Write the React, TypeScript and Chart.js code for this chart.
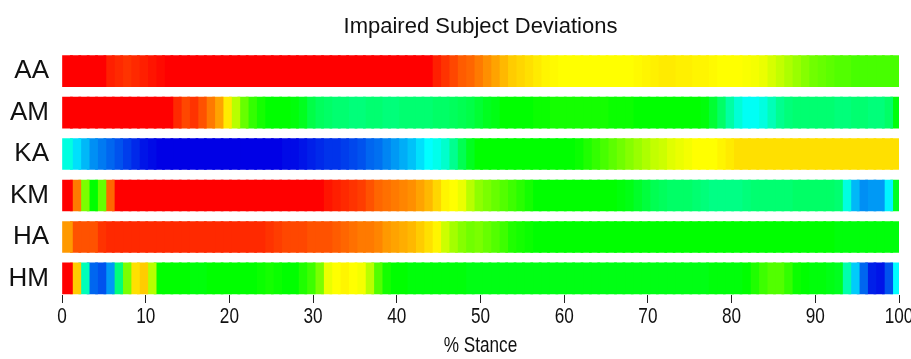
import React, { useEffect, useRef } from 'react';
import { Chart, registerables } from 'chart.js';

Chart.register(...registerables);

// Row (joint/segment) labels, top to bottom
const ROW_LABELS = ['AA', 'AM', 'KA', 'KM', 'HA', 'HM'];

// x-axis tick labels (% stance)
const X_TICKS = [0, 10, 20, 30, 40, 50, 60, 70, 80, 90, 100];
const X_TITLE = '% Stance';
const CHART_TITLE = 'Impaired Subject Deviations';

// Deviation level per 1% of stance (0 = blue, 0.25 = cyan, 0.5 = green, 0.75 = yellow, 1 = red)
const AA = [
  1, 1, 1, 1, 1, 0.97, 0.96, 0.95, 0.96, 0.97,
  0.98, 0.99, 1, 1, 1, 1, 1, 1, 1, 1,
  1, 1, 1, 1, 1, 1, 1, 1, 1, 1,
  1, 1, 1, 1, 1, 1, 1, 1, 1, 1,
  1, 1, 1, 1, 0.97, 0.95, 0.93, 0.91, 0.9, 0.88,
  0.86, 0.84, 0.82, 0.8, 0.79, 0.78, 0.77, 0.76, 0.755, 0.75,
  0.75, 0.75, 0.75, 0.75, 0.75, 0.75, 0.75, 0.75, 0.755, 0.76,
  0.765, 0.77, 0.77, 0.765, 0.765, 0.76, 0.76, 0.755, 0.75, 0.75,
  0.75, 0.745, 0.74, 0.73, 0.71, 0.69, 0.67, 0.65, 0.63, 0.61,
  0.6, 0.59, 0.58, 0.58, 0.57, 0.57, 0.57, 0.57, 0.57, 0.57,
];

const AM = [
  1, 1, 1, 1, 1, 1, 1, 1, 1, 1,
  1, 1, 1, 0.96, 0.93, 0.95, 0.92, 0.88, 0.84, 0.77,
  0.68, 0.6, 0.55, 0.52, 0.5, 0.5, 0.5, 0.49, 0.47, 0.43,
  0.41, 0.4, 0.39, 0.39, 0.38, 0.38, 0.39, 0.39, 0.38, 0.38,
  0.39, 0.39, 0.39, 0.39, 0.4, 0.4, 0.41, 0.42, 0.43, 0.45,
  0.47, 0.48, 0.5, 0.5, 0.5, 0.5, 0.51, 0.51, 0.52, 0.52,
  0.52, 0.52, 0.52, 0.52, 0.52, 0.51, 0.51, 0.51, 0.5, 0.5,
  0.5, 0.5, 0.5, 0.5, 0.5, 0.5, 0.49, 0.45, 0.4, 0.34,
  0.29, 0.26, 0.26, 0.28, 0.32, 0.36, 0.38, 0.39, 0.39, 0.39,
  0.39, 0.39, 0.38, 0.38, 0.39, 0.39, 0.38, 0.38, 0.4, 0.49,
];

const KA = [
  0.28, 0.22, 0.18, 0.14, 0.12, 0.1, 0.08, 0.06, 0.04, 0.02,
  0.01, 0, 0, 0, 0, 0, 0, 0, 0, 0,
  0, 0, 0, 0, 0, 0, 0.01, 0.01, 0.02, 0.03,
  0.04, 0.05, 0.05, 0.06, 0.07, 0.08, 0.1, 0.11, 0.13, 0.15,
  0.17, 0.19, 0.22, 0.25, 0.27, 0.3, 0.36, 0.42, 0.47, 0.5,
  0.5, 0.5, 0.5, 0.5, 0.5, 0.5, 0.5, 0.5, 0.5, 0.5,
  0.5, 0.51, 0.53, 0.55, 0.57, 0.59, 0.61, 0.63, 0.65, 0.67,
  0.69, 0.7, 0.72, 0.73, 0.74, 0.75, 0.75, 0.75, 0.76, 0.77,
  0.78, 0.78, 0.78, 0.78, 0.78, 0.78, 0.78, 0.78, 0.78, 0.78,
  0.78, 0.78, 0.78, 0.78, 0.78, 0.78, 0.78, 0.78, 0.78, 0.78,
];

const KM = [
  1, 0.88, 0.62, 0.5, 0.6, 0.9, 1, 1, 1, 1,
  1, 1, 1, 1, 1, 1, 1, 1, 1, 1,
  1, 1, 1, 1, 1, 1, 1, 1, 1, 1,
  1, 0.98, 0.97, 0.96, 0.95, 0.94, 0.92, 0.9, 0.89, 0.88,
  0.87, 0.86, 0.84, 0.82, 0.79, 0.76, 0.75, 0.73, 0.68, 0.64,
  0.62, 0.6, 0.58, 0.56, 0.54, 0.52, 0.5, 0.5, 0.5, 0.5,
  0.5, 0.5, 0.5, 0.5, 0.5, 0.5, 0.49, 0.48, 0.46, 0.44,
  0.42, 0.41, 0.4, 0.4, 0.4, 0.39, 0.38, 0.37, 0.37, 0.37,
  0.37, 0.38, 0.39, 0.39, 0.39, 0.39, 0.39, 0.4, 0.4, 0.4,
  0.4, 0.4, 0.39, 0.28, 0.18, 0.14, 0.15, 0.15, 0.24, 0.47,
];

const HA = [
  0.85, 0.92, 0.92, 0.92, 0.95, 0.96, 0.96, 0.96, 0.96, 0.96,
  0.96, 0.96, 0.96, 0.96, 0.96, 0.96, 0.96, 0.96, 0.96, 0.96,
  0.96, 0.96, 0.96, 0.96, 0.95, 0.94, 0.93, 0.93, 0.93, 0.92,
  0.92, 0.92, 0.91, 0.9, 0.89, 0.88, 0.88, 0.87, 0.85, 0.84,
  0.83, 0.82, 0.8, 0.78, 0.76, 0.7, 0.66, 0.63, 0.61, 0.62,
  0.6, 0.58, 0.56, 0.53, 0.52, 0.51, 0.5, 0.5, 0.5, 0.5,
  0.5, 0.5, 0.5, 0.5, 0.5, 0.5, 0.5, 0.5, 0.5, 0.5,
  0.5, 0.5, 0.5, 0.5, 0.5, 0.5, 0.5, 0.5, 0.5, 0.5,
  0.5, 0.5, 0.5, 0.5, 0.5, 0.5, 0.5, 0.5, 0.5, 0.5,
  0.5, 0.5, 0.49, 0.49, 0.49, 0.49, 0.49, 0.49, 0.49, 0.49,
];

const HM = [
  1, 0.8, 0.32, 0.1, 0.08, 0.15, 0.38, 0.62, 0.78, 0.8,
  0.68, 0.5, 0.5, 0.5, 0.5, 0.49, 0.49, 0.5, 0.5, 0.5,
  0.5, 0.5, 0.5, 0.51, 0.52, 0.51, 0.5, 0.5, 0.53, 0.56,
  0.62, 0.73, 0.75, 0.76, 0.75, 0.74, 0.68, 0.58, 0.52, 0.5,
  0.5, 0.49, 0.49, 0.49, 0.49, 0.49, 0.49, 0.49, 0.48, 0.48,
  0.48, 0.48, 0.48, 0.48, 0.48, 0.48, 0.48, 0.48, 0.48, 0.48,
  0.48, 0.48, 0.48, 0.48, 0.48, 0.48, 0.48, 0.48, 0.48, 0.48,
  0.48, 0.48, 0.48, 0.48, 0.48, 0.48, 0.48, 0.49, 0.49, 0.49,
  0.49, 0.5, 0.53, 0.56, 0.58, 0.58, 0.55, 0.51, 0.5, 0.49,
  0.49, 0.48, 0.47, 0.33, 0.2, 0.1, 0.03, 0.02, 0.08, 0.25,
];

const ROW_VALUES = [AA, AM, KA, KM, HA, HM];

// Styling: rainbow colour ramp
const COLOR_STOPS: [number, number, number, number][] = [
  [0, 0, 0, 230],
  [0.25, 0, 255, 255],
  [0.5, 0, 255, 0],
  [0.75, 255, 255, 0],
  [1, 255, 0, 0],
];

function colorFor(v: number): string {
  const t = Math.max(0, Math.min(1, v));
  for (let i = 1; i < COLOR_STOPS.length; i++) {
    const a = COLOR_STOPS[i - 1];
    const b = COLOR_STOPS[i];
    if (t <= b[0]) {
      const f = (t - a[0]) / (b[0] - a[0]);
      const r = Math.round(a[1] + (b[1] - a[1]) * f);
      const g = Math.round(a[2] + (b[2] - a[2]) * f);
      const bl = Math.round(a[3] + (b[3] - a[3]) * f);
      return `rgb(${r},${g},${bl})`;
    }
  }
  return 'rgb(255,0,0)';
}

const FONT_REG = '"Liberation Sans", Arial, Helvetica, sans-serif';
const TEXT_COLOR = '#111';

// Draws the x tick labels and axis title in a horizontally condensed face
const condensedXText = {
  id: 'condensedXText',
  afterDraw(chart: any) {
    const s = chart.scales.x;
    const ctx = chart.ctx;
    const condense = 0.78;
    ctx.save();
    ctx.fillStyle = TEXT_COLOR;
    ctx.font = `22px ${FONT_REG}`;
    ctx.textAlign = 'center';
    ctx.textBaseline = 'alphabetic';
    const tickBase = s.top + 28;
    X_TICKS.forEach((v) => {
      const x = s.getPixelForValue(v);
      ctx.save();
      ctx.translate(x, tickBase);
      ctx.scale(condense, 1);
      ctx.fillText(String(v), 0, 0);
      ctx.restore();
    });
    const cx = (chart.chartArea.left + chart.chartArea.right) / 2;
    ctx.save();
    ctx.translate(cx, s.top + 57);
    ctx.scale(condense, 1);
    ctx.fillText(X_TITLE, 0, 0);
    ctx.restore();
    ctx.restore();
  },
};

export default function App() {
  const canvasRef = useRef<HTMLCanvasElement | null>(null);

  useEffect(() => {
    if (!canvasRef.current) return;
    const segments = AA.length;
    const datasets = [];
    for (let k = 0; k < segments; k++) {
      datasets.push({
        label: `s${k}`,
        data: ROW_VALUES.map((_, i) => ({ x: [k, Math.min(k + 1.25, segments)], y: i })),
        backgroundColor: ROW_VALUES.map((vals) => colorFor(vals[k])),
        borderWidth: 0,
        borderSkipped: false,
        barThickness: 31,
        grouped: false,
      });
    }

    const chart = new Chart(canvasRef.current, {
      type: 'bar',
      data: { datasets: datasets as any },
      plugins: [condensedXText],
      options: {
        indexAxis: 'y',
        animation: false,
        responsive: true,
        maintainAspectRatio: false,
        events: [],
        layout: { padding: { left: 0, right: 12, top: 0, bottom: 0 } },
        plugins: {
          legend: { display: false },
          tooltip: { enabled: false },
          title: {
            display: true,
            text: CHART_TITLE,
            fullSize: false,
            color: TEXT_COLOR,
            font: { family: FONT_REG, size: 22, weight: 'normal' },
            padding: { top: 14, bottom: 10 },
          },
        },
        scales: {
          x: {
            type: 'linear',
            position: 'bottom',
            min: 0,
            max: 100,
            offset: false,
            border: { display: false },
            grid: {
              drawOnChartArea: false,
              drawTicks: true,
              tickLength: 8,
              tickColor: '#222',
              tickWidth: 1,
            },
            ticks: { display: false },
            afterBuildTicks: (s: any) => {
              s.ticks = X_TICKS.map((v) => ({ value: v }));
            },
            title: { display: false },
            afterFit: (s: any) => {
              s.height = 64;
              s.paddingLeft = 0;
              s.paddingRight = 0;
            },
          },
          y: {
            type: 'linear',
            reverse: true,
            offset: false,
            min: -0.5,
            max: 5.4,
            border: { display: false },
            grid: { display: false, drawTicks: false },
            ticks: {
              color: TEXT_COLOR,
              padding: 13,
              font: { family: FONT_REG, size: 26 },
              callback: (v: any) => ROW_LABELS[v] ?? '',
            },
            afterBuildTicks: (s: any) => {
              s.ticks = ROW_LABELS.map((_, i) => ({ value: i }));
            },
            afterFit: (s: any) => {
              s.width = 62;
              s.paddingTop = 0;
              s.paddingBottom = 0;
            },
          },
        },
      } as any,
    });
    return () => chart.destroy();
  }, []);

  return (
    <div style={{ position: 'absolute', left: 0, top: 0, width: 911, height: 359, background: '#fff' }}>
      <canvas ref={canvasRef} />
    </div>
  );
}
